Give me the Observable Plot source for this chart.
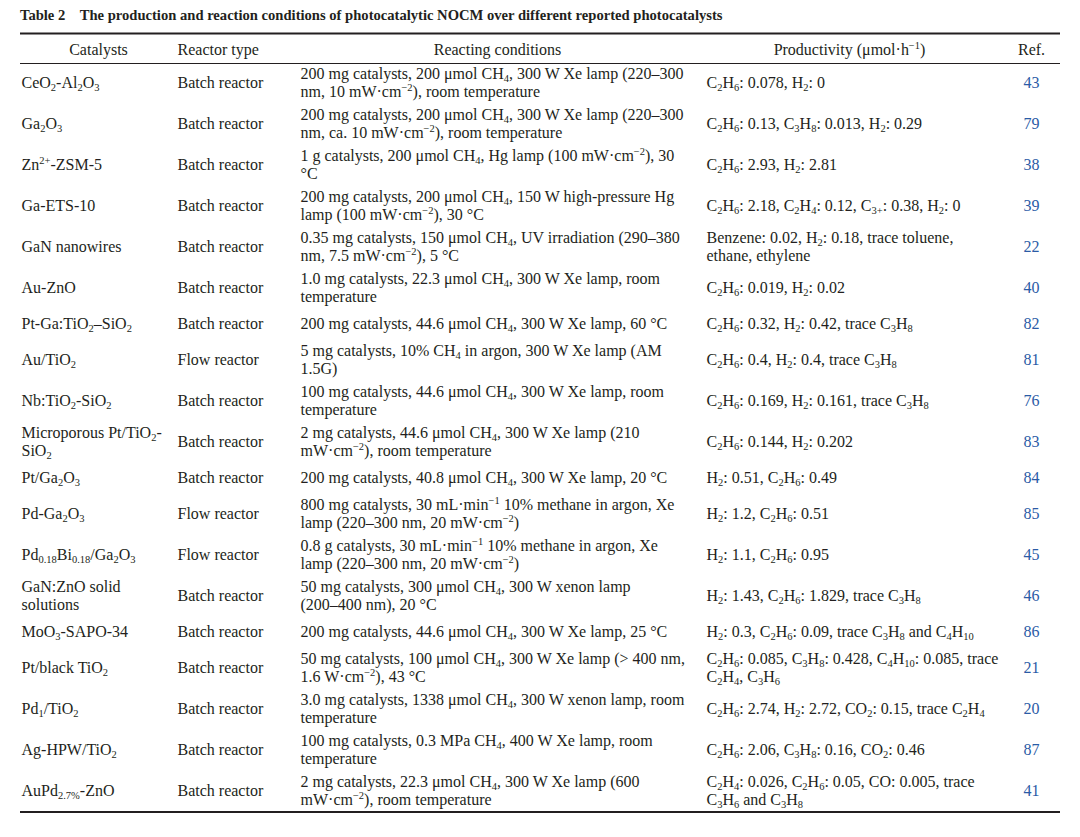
<!DOCTYPE html>
<html>
<head>
<meta charset="utf-8">
<script src="https://cdn.jsdelivr.net/npm/d3@7"></script>
<script src="https://cdn.jsdelivr.net/npm/@observablehq/plot@0.6"></script>
<style>
  html, body { margin: 0; padding: 0; background: #ffffff; }
  #title { height: 26px; box-sizing: border-box; padding: 7px 0 0 20px; font-family: "Liberation Serif", serif; font-weight: bold; font-size: 14.6px; color: #231f20; white-space: nowrap; }
  #title .num { margin-right: 11px; }
  #chart svg { display: block; }
</style>
</head>
<body>
<div id="title"><span class="num">Table 2</span> The production and reaction conditions of photocatalytic NOCM over different reported photocatalysts</div>
<div id="chart"></div>
<script>
// ---- data ----
const headers = ["Catalysts", "Reactor type", "Reacting conditions", "Productivity (μmol·h^{−1})", "Ref."];

const catalysts = [
  "CeO_{2}-Al_{2}O_{3}",
  "Ga_{2}O_{3}",
  "Zn^{2+}-ZSM-5",
  "Ga-ETS-10",
  "GaN nanowires",
  "Au-ZnO",
  "Pt-Ga:TiO_{2}–SiO_{2}",
  "Au/TiO_{2}",
  "Nb:TiO_{2}-SiO_{2}",
  "Microporous Pt/TiO_{2}-\nSiO_{2}",
  "Pt/Ga_{2}O_{3}",
  "Pd-Ga_{2}O_{3}",
  "Pd_{0.18}Bi_{0.18}/Ga_{2}O_{3}",
  "GaN:ZnO solid\nsolutions",
  "MoO_{3}-SAPO-34",
  "Pt/black TiO_{2}",
  "Pd_{1}/TiO_{2}",
  "Ag-HPW/TiO_{2}",
  "AuPd_{2.7%}-ZnO"
];

const reactors = [
  "Batch reactor", "Batch reactor", "Batch reactor", "Batch reactor", "Batch reactor",
  "Batch reactor", "Batch reactor", "Flow reactor", "Batch reactor", "Batch reactor",
  "Batch reactor", "Flow reactor", "Flow reactor", "Batch reactor", "Batch reactor",
  "Batch reactor", "Batch reactor", "Batch reactor", "Batch reactor"
];

const conditions = [
  "200 mg catalysts, 200 μmol CH_{4}, 300 W Xe lamp (220–300\nnm, 10 mW·cm^{−2}), room temperature",
  "200 mg catalysts, 200 μmol CH_{4}, 300 W Xe lamp (220–300\nnm, ca. 10 mW·cm^{−2}), room temperature",
  "1 g catalysts, 200 μmol CH_{4}, Hg lamp (100 mW·cm^{−2}), 30\n°C",
  "200 mg catalysts, 200 μmol CH_{4}, 150 W high-pressure Hg\nlamp (100 mW·cm^{−2}), 30 °C",
  "0.35 mg catalysts, 150 μmol CH_{4}, UV irradiation (290–380\nnm, 7.5 mW·cm^{−2}), 5 °C",
  "1.0 mg catalysts, 22.3 μmol CH_{4}, 300 W Xe lamp, room\ntemperature",
  "200 mg catalysts, 44.6 μmol CH_{4}, 300 W Xe lamp, 60 °C",
  "5 mg catalysts, 10% CH_{4} in argon, 300 W Xe lamp (AM\n1.5G)",
  "100 mg catalysts, 44.6 μmol CH_{4}, 300 W Xe lamp, room\ntemperature",
  "2 mg catalysts, 44.6 μmol CH_{4}, 300 W Xe lamp (210\nmW·cm^{−2}), room temperature",
  "200 mg catalysts, 40.8 μmol CH_{4}, 300 W Xe lamp, 20 °C",
  "800 mg catalysts, 30 mL·min^{−1} 10% methane in argon, Xe\nlamp (220–300 nm, 20 mW·cm^{−2})",
  "0.8 g catalysts, 30 mL·min^{−1} 10% methane in argon, Xe\nlamp (220–300 nm, 20 mW·cm^{−2})",
  "50 mg catalysts, 300 μmol CH_{4}, 300 W xenon lamp\n(200–400 nm), 20 °C",
  "200 mg catalysts, 44.6 μmol CH_{4}, 300 W Xe lamp, 25 °C",
  "50 mg catalysts, 100 μmol CH_{4}, 300 W Xe lamp (> 400 nm,\n1.6 W·cm^{−2}), 43 °C",
  "3.0 mg catalysts, 1338 μmol CH_{4}, 300 W xenon lamp, room\ntemperature",
  "100 mg catalysts, 0.3 MPa CH_{4}, 400 W Xe lamp, room\ntemperature",
  "2 mg catalysts, 22.3 μmol CH_{4}, 300 W Xe lamp (600\nmW·cm^{−2}), room temperature"
];

const productivity = [
  "C_{2}H_{6}: 0.078, H_{2}: 0",
  "C_{2}H_{6}: 0.13, C_{3}H_{8}: 0.013, H_{2}: 0.29",
  "C_{2}H_{6}: 2.93, H_{2}: 2.81",
  "C_{2}H_{6}: 2.18, C_{2}H_{4}: 0.12, C_{3+}: 0.38, H_{2}: 0",
  "Benzene: 0.02, H_{2}: 0.18, trace toluene,\nethane, ethylene",
  "C_{2}H_{6}: 0.019, H_{2}: 0.02",
  "C_{2}H_{6}: 0.32, H_{2}: 0.42, trace C_{3}H_{8}",
  "C_{2}H_{6}: 0.4, H_{2}: 0.4, trace C_{3}H_{8}",
  "C_{2}H_{6}: 0.169, H_{2}: 0.161, trace C_{3}H_{8}",
  "C_{2}H_{6}: 0.144, H_{2}: 0.202",
  "H_{2}: 0.51, C_{2}H_{6}: 0.49",
  "H_{2}: 1.2, C_{2}H_{6}: 0.51",
  "H_{2}: 1.1, C_{2}H_{6}: 0.95",
  "H_{2}: 1.43, C_{2}H_{6}: 1.829, trace C_{3}H_{8}",
  "H_{2}: 0.3, C_{2}H_{6}: 0.09, trace C_{3}H_{8} and C_{4}H_{10}",
  "C_{2}H_{6}: 0.085, C_{3}H_{8}: 0.428, C_{4}H_{10}: 0.085, trace\nC_{2}H_{4}, C_{3}H_{6}",
  "C_{2}H_{6}: 2.74, H_{2}: 2.72, CO_{2}: 0.15, trace C_{2}H_{4}",
  "C_{2}H_{6}: 2.06, C_{3}H_{8}: 0.16, CO_{2}: 0.46",
  "C_{2}H_{4}: 0.026, C_{2}H_{6}: 0.05, CO: 0.005, trace\nC_{3}H_{6} and C_{3}H_{8}"
];

const refs = ["43", "79", "38", "39", "22", "40", "82", "81", "76", "83", "84", "85", "45", "46", "86", "21", "20", "87", "41"];

// ---- layout ----
const W = 1080, H = 811;
const tableLeft = 20, tableRight = 1060;
const topRuleY = 7, headerY = 23, headerRuleY = 37;
const lineH = 18;
const rowH = n => 21 + 10 * n;
const cols = [
  {bx: 21, ba: "start", hx: 98, ha: "middle", fill: "#231f20"},
  {bx: 177, ba: "start", hx: 177, ha: "start", fill: "#231f20"},
  {bx: 300, ba: "start", hx: 497, ha: "middle", fill: "#231f20"},
  {bx: 706, ba: "start", hx: 849, ha: "middle", fill: "#231f20"},
  {bx: 1031, ba: "middle", hx: 1031, ha: "middle", fill: "#2b5ba6"}
];
const columns = [catalysts, reactors, conditions, productivity, refs];

const cells = [];
let yCursor = headerRuleY;
for (let r = 0; r < catalysts.length; r++) {
  const split = columns.map(c => c[r].split("\n"));
  const n = d3.max(split, s => s.length);
  const h = rowH(n);
  const center = yCursor + h / 2 - 1;
  split.forEach((lines, c) => {
    lines.forEach((t, i) => {
      cells.push({col: c, x: cols[c].bx, y: center + (i - (lines.length - 1) / 2) * lineH, text: t, anchor: cols[c].ba, fill: cols[c].fill});
    });
  });
  yCursor += h;
}
const bottomRuleY = yCursor - 0.5;
const headerCells = headers.map((t, c) => ({x: cols[c].hx, y: headerY, text: t, anchor: cols[c].ha}));

const FS = 16;
const textMarks = [];
for (const a of ["start", "middle"]) {
  textMarks.push(Plot.text(cells.filter(d => d.anchor === a), {x: "x", y: "y", text: "text", fill: "fill", textAnchor: a, fontSize: FS}));
  textMarks.push(Plot.text(headerCells.filter(d => d.anchor === a), {x: "x", y: "y", text: "text", fill: "#231f20", textAnchor: a, fontSize: FS}));
}

const chart = Plot.plot({
  width: W,
  height: H,
  margin: 0,
  style: {fontFamily: "'Liberation Serif', 'Times New Roman', serif", background: "#ffffff", color: "#231f20"},
  x: {domain: [0, W], range: [0, W], axis: null},
  y: {domain: [0, H], range: [0, H], axis: null},
  marks: [
    Plot.ruleY([topRuleY], {x1: tableLeft, x2: tableRight, stroke: "#231f20", strokeWidth: 2.2}),
    Plot.ruleY([headerRuleY], {x1: tableLeft, x2: tableRight, stroke: "#231f20", strokeWidth: 1}),
    Plot.ruleY([bottomRuleY], {x1: tableLeft, x2: tableRight, stroke: "#231f20", strokeWidth: 2.2}),
    ...textMarks
  ]
});

// rich text: _{sub} and ^{sup}
const NS = "http://www.w3.org/2000/svg";
chart.querySelectorAll("text").forEach(el => {
  const s = el.textContent;
  if (!/[_^]\{/.test(s)) return;
  const parts = s.split(/([_^]\{[^}]*\})/);
  el.textContent = "";
  for (const p of parts) {
    if (!p) continue;
    const ts = document.createElementNS(NS, "tspan");
    const m = p.match(/^([_^])\{([^}]*)\}$/);
    if (m) {
      ts.textContent = m[2];
      ts.setAttribute("font-size", "10.5");
      ts.setAttribute("baseline-shift", m[1] === "_" ? "-3" : "6");
    } else {
      ts.textContent = p;
    }
    el.appendChild(ts);
  }
});

document.getElementById("chart").appendChild(chart);
</script>
</body>
</html>
